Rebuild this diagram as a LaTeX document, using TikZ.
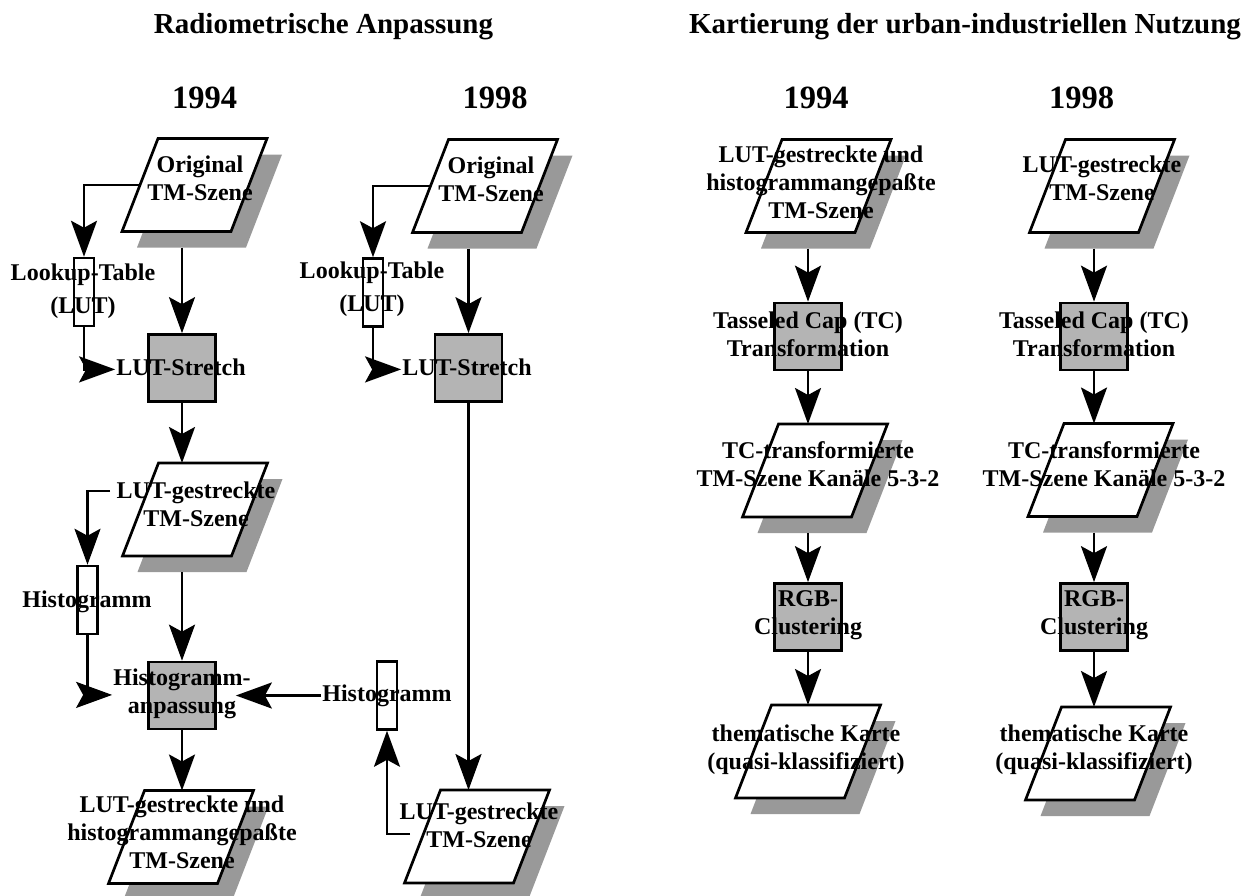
\documentclass[tikz,border=0pt]{standalone}
\usepackage{fontspec}
\setmainfont{Liberation Serif}
\usetikzlibrary{arrows.meta,calc}
\definecolor{boxc}{RGB}{180,180,180}
\definecolor{shadowc}{RGB}{153,153,153}
\tikzset{
  conn/.style={line width=2.6pt,-{Stealth[length=36pt,width=26pt,inset=7pt]}},
  procbox/.style={draw,line width=2.7pt,fill=boxc,minimum width=67pt,minimum height=67pt,inner sep=0pt},
  smallbox/.style={draw,line width=2.5pt,fill=white,minimum width=20pt,minimum height=68pt,inner sep=0pt},
  parab/.style={draw,fill=white,line width=2.7pt,line join=miter},
  lbl/.style={font=\fontsize{24}{28}\selectfont\bfseries,align=center,inner sep=1pt,
    execute at begin node=\strut,execute at end node=\strut},
  lutlbl/.style={lbl,font=\fontsize{24}{33}\selectfont\bfseries},
  titlefont/.style={font=\fontsize{29}{35}\selectfont\bfseries,inner sep=0pt},
  yearfont/.style={font=\fontsize{32.5}{38}\selectfont\bfseries,inner sep=0pt},
}
\newcommand\parashape[3]{%
  \fill[shadowc] (#2,#3) ++(-57.5,62.5) -- ++(109,0) -- ++(36,-93) -- ++(-109,0) -- cycle;
  \filldraw[parab] (#2,#3) ++(-72.5,46.5) -- ++(109,0) -- ++(36,-93) -- ++(-109,0) -- cycle;
  \path (#2,#3) coordinate (#1) ++(0,-46.5) coordinate (#1-top);
  \path (#2,#3) ++(0,62.5) coordinate (#1-sb);
  \path (#2,#3) ++(-54.5,0) coordinate (#1-l);
}
\begin{document}
\begin{tikzpicture}[x=1pt,y=-1pt]
\useasboundingbox (0,0) rectangle (1242,895);

% titles
\node[titlefont,anchor=base] (t1) at (323.5,33) {Radiometrische Anpassung};
\node[titlefont,anchor=base] (t2) at (965,33) {Kartierung der urban-industriellen Nutzung};
\node[yearfont,anchor=base] (y1) at (204.5,108) {1994};
\node[yearfont,anchor=base] (y2) at (495,108) {1998};
\node[yearfont,anchor=base] (y3) at (816,108) {1994};
\node[yearfont,anchor=base] (y4) at (1081.5,108) {1998};

% parallelograms
\parashape{P1}{194.5}{185}
\parashape{P2}{195}{509.5}
\parashape{P5}{181}{837}
\parashape{P3}{485}{186}
\parashape{P4}{477}{836.5}
\parashape{P6}{818.5}{186}
\parashape{P7}{815}{470.5}
\parashape{P8}{808}{751.5}
\parashape{P9}{1102}{186}
\parashape{P10}{1100.5}{470}
\parashape{P11}{1098}{753.5}

% process boxes
\node[procbox] (B1) at (182,368) {};
\node[procbox] (B2) at (468.5,368) {};
\node[procbox] (B3) at (182,695.5) {};
\node[procbox] (B4) at (808,336.5) {};
\node[procbox] (B5) at (808,617) {};
\node[procbox] (B6) at (1094,336.5) {};
\node[procbox] (B7) at (1094,617) {};

% small boxes
\node[smallbox] (S1) at (84,292) {};
\node[smallbox] (S2) at (373,292.5) {};
\node[smallbox] (S3) at (87.5,600) {};
\node[smallbox] (S4) at (387,695.5) {};

% texts
\node[lbl] (TP1) at (200,181.9) {Original\\TM-Szene};
\node[lutlbl] (TS1) at (83,293.9) {Lookup-Table\\(LUT)};
\node[lbl] (TB1) at (181,369.4) {LUT-Stretch};
\node[lbl] (TP2) at (196,508.4) {LUT-gestreckte\\TM-Szene};
\node[lbl] (TS3) at (87,602) {Histogramm};
\node[lbl] (TB3) at (182,694.9) {Histogramm-\\anpassung};
\node[lbl] (TP5) at (182,835.9) {LUT-gestreckte und\\histogrammangepaßte\\TM-Szene};
\node[lbl] (TP3) at (491,182.9) {Original\\TM-Szene};
\node[lutlbl] (TS2) at (372,291.9) {Lookup-Table\\(LUT)};
\node[lbl] (TB2) at (467,369.4) {LUT-Stretch};
\node[lbl] (TS4) at (387,695.5) {Histogramm};
\node[lbl] (TP4) at (479,828.9) {LUT-gestreckte\\TM-Szene};
\node[lbl] (TP6) at (821,185.9) {LUT-gestreckte und\\histogrammangepaßte\\TM-Szene};
\node[lbl] (TB4) at (808,337.9) {Tasseled Cap (TC)\\Transformation};
\node[lbl] (TP7) at (818,468.4) {TC-transformierte\\TM-Szene Kanäle 5-3-2};
\node[lbl] (TB5) at (808,616.9) {RGB-\\Clustering};
\node[lbl] (TP8) at (806,750.9) {thematische Karte\\(quasi-klassifiziert)};
\node[lbl] (TP9) at (1102,181.9) {LUT-gestreckte\\TM-Szene};
\node[lbl] (TB6) at (1094,337.9) {Tasseled Cap (TC)\\Transformation};
\node[lbl] (TP10) at (1104,468.4) {TC-transformierte\\TM-Szene Kanäle 5-3-2};
\node[lbl] (TB7) at (1094,616.9) {RGB-\\Clustering};
\node[lbl] (TP11) at (1094,750.9) {thematische Karte\\(quasi-klassifiziert)};

% free ends
\coordinate (h1start) at (110,491);
\coordinate (h2start) at (410,834);

% connectors: Radiometrische Anpassung 1994
\draw[conn] (P1-sb -| B1.north) -- (B1.north);
\draw[conn] (P1-l) -| (S1.north);
\draw[conn] (S1.south) |- (TB1.west);
\draw[conn] (B1.south) -- (B1.south |- P2-top);
\draw[conn] (h1start) -| (S3.north);
\draw[conn] (S3.south) |- (TB3.west);
\draw[conn] (P2-sb -| B3.north) -- (B3.north);
\draw[conn] (TS4.west) -- ([xshift=19pt]B3.east);
\draw[conn] (B3.south) -- (B3.south |- P5-top);
% 1998
\draw[conn] (P3-sb -| B2.north) -- (B2.north);
\draw[conn] (P3-l) -| (S2.north);
\draw[conn] (S2.south) |- (TB2.west);
\draw[conn] (B2.south) -- (B2.south |- P4-top);
\draw[conn] (h2start) -| (S4.south);
% Kartierung 1994
\draw[conn] (P6-sb -| B4.north) -- (B4.north);
\draw[conn] (B4.south) -- (B4.south |- P7-top);
\draw[conn] (P7-sb -| B5.north) -- (B5.north);
\draw[conn] (B5.south) -- (B5.south |- P8-top);
% Kartierung 1998
\draw[conn] (P9-sb -| B6.north) -- (B6.north);
\draw[conn] (B6.south) -- (B6.south |- P10-top);
\draw[conn] (P10-sb -| B7.north) -- (B7.north);
\draw[conn] (B7.south) -- (B7.south |- P11-top);
\end{tikzpicture}
\end{document}
